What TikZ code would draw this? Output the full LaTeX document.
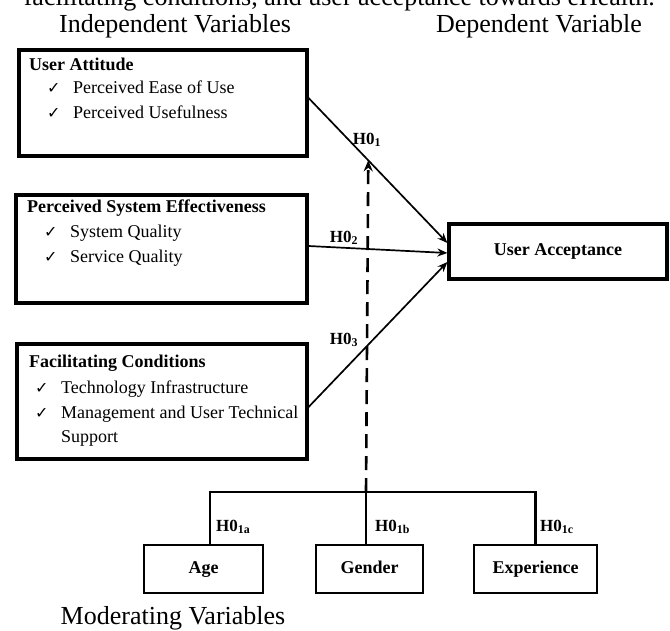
\documentclass[tikz,border=0pt]{standalone}
\usepackage{fontspec}
\setmainfont{Liberation Serif}
\newfontfamily\chkfont{DejaVu Sans}
\usetikzlibrary{arrows.meta,positioning,calc}

\newcommand{\chk}{\makebox[26pt][l]{{\chkfont\fontsize{16}{12}\selectfont ✓}}}

\begin{document}
\begin{tikzpicture}[x=1pt, y=-1pt,
    bigbox/.style={draw, line width=3.2pt, inner sep=0pt},
    smallbox/.style={draw, line width=1.4pt, inner sep=0pt, minimum height=48pt,
        text height=13pt, text depth=5pt, font=\fontsize{18}{22}\selectfont\bfseries},
    head/.style={anchor=base west, inner sep=0pt, font=\fontsize{18}{22}\selectfont\bfseries},
    item/.style={anchor=base west, inner sep=0pt, font=\fontsize{18}{22}\selectfont},
    title/.style={anchor=base, inner sep=0pt, font=\fontsize{26}{30}\selectfont},
    hyp/.style={inner sep=0pt, font=\fontsize{17}{20}\selectfont\bfseries},
    link/.style={line width=1.7pt, -{Stealth[length=10pt,width=8pt]}},
    moder/.style={line width=2.6pt, dash pattern=on 14pt off 8pt, -{Stealth[length=11pt,width=9pt]}},
    tree/.style={line width=2.2pt}]
\clip (0,0) rectangle (670,630);

% cut-off caption line and titles
\node[title, anchor=base east] (cap) at (655,5) {facilitating conditions, and user acceptance towards eHealth.};
\node[title] (indep) at (175,32) {Independent Variables};
\node[title] (dep) at (539,32) {Dependent Variable};
\node[title] (mod) at (173,624) {Moderating Variables};

% independent variables
\node[bigbox, minimum width=288pt, minimum height=106pt] (ua) at (163,103) {};
\node[head] (ua-h) at (29,70) {User Attitude};
\node[item] (ua-1) at (47,93) {\chk Perceived Ease of Use};
\node[item] (ua-2) at (47,118) {\chk Perceived Usefulness};

\node[bigbox, minimum width=291pt, minimum height=108pt] (pse) at (161.5,249) {};
\node[head] (pse-h) at (27,212) {Perceived System Effectiveness};
\node[item] (pse-1) at (44,237) {\chk System Quality};
\node[item] (pse-2) at (44,262) {\chk Service Quality};

\node[bigbox, minimum width=290pt, minimum height=115pt] (fc) at (162,401.5) {};
\node[head] (fc-h) at (29,367) {Facilitating Conditions};
\node[item] (fc-1) at (35,393) {\chk Technology Infrastructure};
\node[item] (fc-2) at (35,418) {\chk Management and User Technical};
\node[item] (fc-3) at (61,442) {Support};

% dependent variable
\node[bigbox, minimum width=218pt, minimum height=55pt, text height=13pt, text depth=5pt,
      font=\fontsize{18}{22}\selectfont\bfseries] (acc) at (558,251.5) {User Acceptance};

% moderating variables
\node[smallbox, minimum width=119pt] (age) at (203.5,569) {Age};
\node[smallbox, minimum width=107pt] (gender) at (369.5,569) {Gender};
\node[smallbox, minimum width=123pt] (exp) at (535.5,569) {Experience};

% hypotheses
\draw[link] ([yshift=5pt]ua.east) -- coordinate[pos=0.43] (m1) ([yshift=8.5pt]acc.west);
\draw[link] ([yshift=3pt]pse.east) -- ([yshift=-1.5pt]acc.west);
\draw[link] ([yshift=-5.5pt]fc.east) -- ([yshift=-10.5pt]acc.west);

\coordinate (bar) at (366,492);
\draw[tree] ([xshift=6.5pt]age.north) |- (exp.north |- bar) -- (exp.north);
\draw[tree] ([xshift=-3.5pt]gender.north) -- ([xshift=-3.5pt]gender.north |- bar);
\draw[moder] (bar) -- (m1);

\node[hyp] (h1) at (367,140) {H0\textsubscript{1}};
\node[hyp] (h2) at (344,238) {H0\textsubscript{2}};
\node[hyp] (h3) at (344,340) {H0\textsubscript{3}};
\node[hyp, anchor=west] (h1a) at (216,527) {H0\textsubscript{1a}};
\node[hyp, anchor=west] (h1b) at (375,527) {H0\textsubscript{1b}};
\node[hyp, anchor=west] (h1c) at (540,527) {H0\textsubscript{1c}};
\end{tikzpicture}
\end{document}
